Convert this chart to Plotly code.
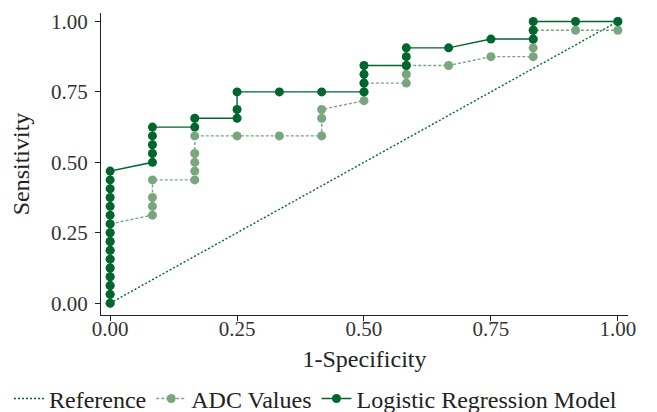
import plotly.graph_objects as go

# Data (fractions: 12 negatives -> x steps of 1/12, 32 positives -> y steps of 1/32)
ref_x = [0.0, 1.0]
ref_y = [0.0, 1.0]

adc_x = [0, 0, 0, 0, 0, 0, 0, 0, 0, 0,
         1/12, 1/12, 1/12, 1/12,
         2/12, 2/12, 2/12, 2/12, 2/12,
         3/12, 4/12,
         5/12, 5/12, 5/12,
         6/12, 6/12, 6/12,
         7/12, 7/12, 7/12,
         8/12,
         9/12,
         10/12, 10/12, 10/12, 10/12,
         11/12,
         1.0, 1.0]
adc_y = [0, 1/32, 2/32, 3/32, 4/32, 5/32, 6/32, 7/32, 8/32, 9/32,
         10/32, 11/32, 12/32, 14/32,
         14/32, 15/32, 16/32, 17/32, 19/32,
         19/32, 19/32,
         19/32, 21/32, 22/32,
         23/32, 24/32, 25/32,
         25/32, 26/32, 27/32,
         27/32,
         28/32,
         28/32, 29/32, 30/32, 31/32,
         31/32,
         31/32, 1.0]

lrm_x = [0]*16 + [1/12]*5 + [2/12]*2 + [3/12]*3 + [4/12, 5/12] + [6/12]*4 + [7/12]*3 + [8/12, 9/12] + [10/12]*3 + [11/12, 1.0]
lrm_y = [i/32 for i in range(16)] + \
        [16/32, 17/32, 18/32, 19/32, 20/32] + \
        [20/32, 21/32] + \
        [21/32, 22/32, 24/32] + \
        [24/32, 24/32] + \
        [24/32, 25/32, 26/32, 27/32] + \
        [27/32, 28/32, 29/32] + \
        [29/32, 30/32] + \
        [30/32, 31/32, 1.0] + \
        [1.0, 1.0]

x_ticks = [0.0, 0.25, 0.5, 0.75, 1.0]
x_tick_labels = ["0.00", "0.25", "0.50", "0.75", "1.00"]
y_ticks = [0.0, 0.25, 0.5, 0.75, 1.0]
y_tick_labels = ["0.00", "0.25", "0.50", "0.75", "1.00"]

DARK = "#00662e"
LIGHT = "#79a67e"
FONT = "Liberation Serif"

fig = go.Figure()
fig.add_trace(go.Scatter(x=ref_x, y=ref_y, mode="lines", name="Reference",
                         line=dict(color=DARK, width=1.4, dash="2px,2px")))
fig.add_trace(go.Scatter(x=adc_x, y=adc_y, mode="lines+markers", name="ADC Values",
                         line=dict(color=LIGHT, width=1.4, dash="3px,2px"),
                         marker=dict(color=LIGHT, size=9)))
fig.add_trace(go.Scatter(x=lrm_x, y=lrm_y, mode="lines+markers", name="Logistic Regression Model",
                         line=dict(color=DARK, width=1.4),
                         marker=dict(color=DARK, size=9)))

axis_common = dict(showgrid=False, zeroline=False, showline=True, linecolor="#222",
                   linewidth=1.2, ticks="outside", ticklen=5, tickcolor="#222",
                   automargin=True,
                   tickfont=dict(family=FONT, size=21, color="#333"))

# page body has an 8px margin, so the figure is 649x404 placed at (8, 8)
fig.update_layout(
    width=649, height=404,
    margin=dict(l=93, r=29, t=5, b=97, autoexpand=False),
    plot_bgcolor="white", paper_bgcolor="white",
    font=dict(family=FONT, size=22, color="#222"),
    xaxis=dict(range=[-0.018, 1.02], tickvals=x_ticks, ticktext=x_tick_labels,
               ticklabelstandoff=-10,
               title=dict(text="1-Specificity", font=dict(family=FONT, size=24), standoff=9),
               **axis_common),
    yaxis=dict(range=[-0.042, 1.03], tickvals=y_ticks, ticktext=y_tick_labels,
               ticklabelstandoff=3,
               title=dict(text="Sensitivity", font=dict(family=FONT, size=24), standoff=19),
               **axis_common),
    legend=dict(orientation="h", x=-0.1746, xanchor="left",
                y=-0.278, yanchor="middle",
                font=dict(family=FONT, size=24), itemwidth=30, tracegroupgap=0,
                bgcolor="rgba(0,0,0,0)"),
)

fig.write_html("out.html")
